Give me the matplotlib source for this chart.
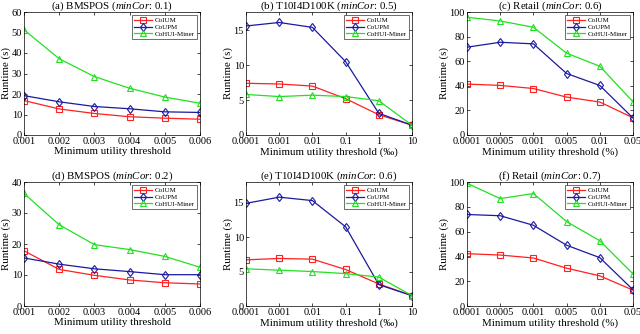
import matplotlib
matplotlib.use("Agg")
import matplotlib.pyplot as plt
import numpy as np

plt.rcParams['font.family'] = ['Liberation Serif', 'DejaVu Serif']
plt.rcParams['mathtext.fontset'] = 'custom'
plt.rcParams['mathtext.it'] = 'Liberation Serif:italic'
plt.rcParams['mathtext.rm'] = 'Liberation Serif'

# ---------------- data ----------------
labels_bms = ['0.001', '0.002', '0.003', '0.004', '0.005', '0.006']
labels_t10 = ['0.0001', '0.001', '0.01', '0.1', '1', '10']
labels_ret = ['0.0001', '0.0005', '0.001', '0.005', '0.01', '0.05']

# (a) BMSPOS minCor 0.1
a_coium = [16.8, 12.7, 10.5, 8.9, 8.2, 7.7]
a_coupm = [19.2, 16.2, 13.9, 12.8, 11.3, 11.0]
a_cohui = [51.3, 37.2, 28.5, 22.8, 18.5, 15.5]
# (b) T10I4D100K minCor 0.5
b_coium = [7.4, 7.3, 7.0, 5.2, 2.9, 1.4]
b_coupm = [15.6, 16.1, 15.4, 10.5, 3.1, 1.4]
b_cohui = [5.8, 5.5, 5.7, 5.5, 4.9, 1.4]
# (c) Retail minCor 0.6
c_coium = [41.4, 40.3, 37.8, 30.8, 26.8, 14.0]
c_coupm = [71.4, 75.4, 74.1, 50.0, 40.3, 13.8]
c_cohui = [95.7, 92.7, 87.6, 66.5, 55.9, 27.0]
# (d) BMSPOS minCor 0.2
d_coium = [17.8, 11.8, 9.9, 8.4, 7.5, 7.1]
d_coupm = [15.5, 13.5, 12.0, 11.1, 10.1, 10.1]
d_cohui = [36.3, 26.2, 19.8, 18.2, 16.0, 12.5]
# (e) T10I4D100K minCor 0.6
e_coium = [6.7, 6.9, 6.8, 5.3, 3.2, 1.5]
e_coupm = [14.9, 15.8, 15.3, 11.5, 3.1, 1.5]
e_cohui = [5.4, 5.2, 5.0, 4.7, 4.2, 1.5]
# (f) Retail minCor 0.7
f_coium = [42.2, 41.1, 38.7, 30.5, 24.3, 12.8]
f_coupm = [73.8, 72.8, 65.1, 49.0, 39.0, 13.1]
f_cohui = [99.0, 86.6, 90.7, 68.1, 52.6, 25.9]

panels = [
    ('(a) BMSPOS', '0.1', labels_bms, 'Minimum utility threshold', (0, 60), np.arange(0, 61, 10), a_coium, a_coupm, a_cohui),
    ('(b) T10I4D100K', '0.5', labels_t10, 'Minimum utility threshold (\u2030)', (0, 17.6), [0, 5, 10, 15], b_coium, b_coupm, b_cohui),
    ('(c) Retail', '0.6', labels_ret, 'Minimum utility threshold (%)', (0, 100), np.arange(0, 101, 20), c_coium, c_coupm, c_cohui),
    ('(d) BMSPOS', '0.2', labels_bms, 'Minimum utility threshold', (0, 40), np.arange(0, 41, 10), d_coium, d_coupm, d_cohui),
    ('(e) T10I4D100K', '0.6', labels_t10, 'Minimum utility threshold (\u2030)', (0, 18), [0, 5, 10, 15], e_coium, e_coupm, e_cohui),
    ('(f) Retail', '0.7', labels_ret, 'Minimum utility threshold (%)', (0, 100), np.arange(0, 101, 20), f_coium, f_coupm, f_cohui),
]

# axes boxes in pixels: left, right, top, bottom
W, H = 640, 334
cols = [(24, 200), (246, 412), (467, 633)]
rows = [(12, 135), (182, 306)]

fig = plt.figure(figsize=(6.4, 3.34), dpi=100)

for i, (name, mc, xl, xlab, ylim, yt, s1, s2, s3) in enumerate(panels):
    l, r = cols[i % 3]
    t, b = rows[i // 3]
    ax = fig.add_axes([l / W, 1 - b / H, (r - l) / W, (b - t) / H])
    x = np.arange(len(xl))
    ax.plot(x, s1, color='#ff2020', marker='s', mfc='none', ms=4, lw=0.9, mew=0.8, label='CoIUM')
    ax.plot(x, s2, color='#1a1aa0', marker='d', mfc='none', ms=4.5, lw=0.9, mew=0.8, label='CoUPM')
    ax.plot(x, s3, color='#22e022', marker='^', mfc='none', ms=4.5, lw=0.9, mew=0.8, label='CoHUI-Miner')
    ax.set_xlim(0, len(xl) - 1)
    ax.set_ylim(*ylim)
    ax.set_xticks(x)
    ax.set_xticklabels(xl)
    ax.set_yticks(yt)
    ax.tick_params(direction='in', top=True, right=True, labelsize=7.5, length=2.5, width=0.5, pad=1.5)
    for sp in ax.spines.values():
        sp.set_linewidth(0.5)
    ax.set_xlabel(xlab, fontsize=7.8, labelpad=1)
    ax.set_ylabel('Runtime (s)', fontsize=7.8, labelpad=0.5)
    ax.set_title(name + ' ($minCor$: ' + mc + ')', fontsize=7.8, pad=2)
    leg = ax.legend(loc='upper right', fontsize=5, frameon=True, fancybox=False,
                    edgecolor='black', handlelength=2.6, borderpad=0.3, labelspacing=0.1,
                    handletextpad=0.3, borderaxespad=0.5)
    leg.get_frame().set_linewidth(0.5)

fig.savefig('out.png', dpi=100)
